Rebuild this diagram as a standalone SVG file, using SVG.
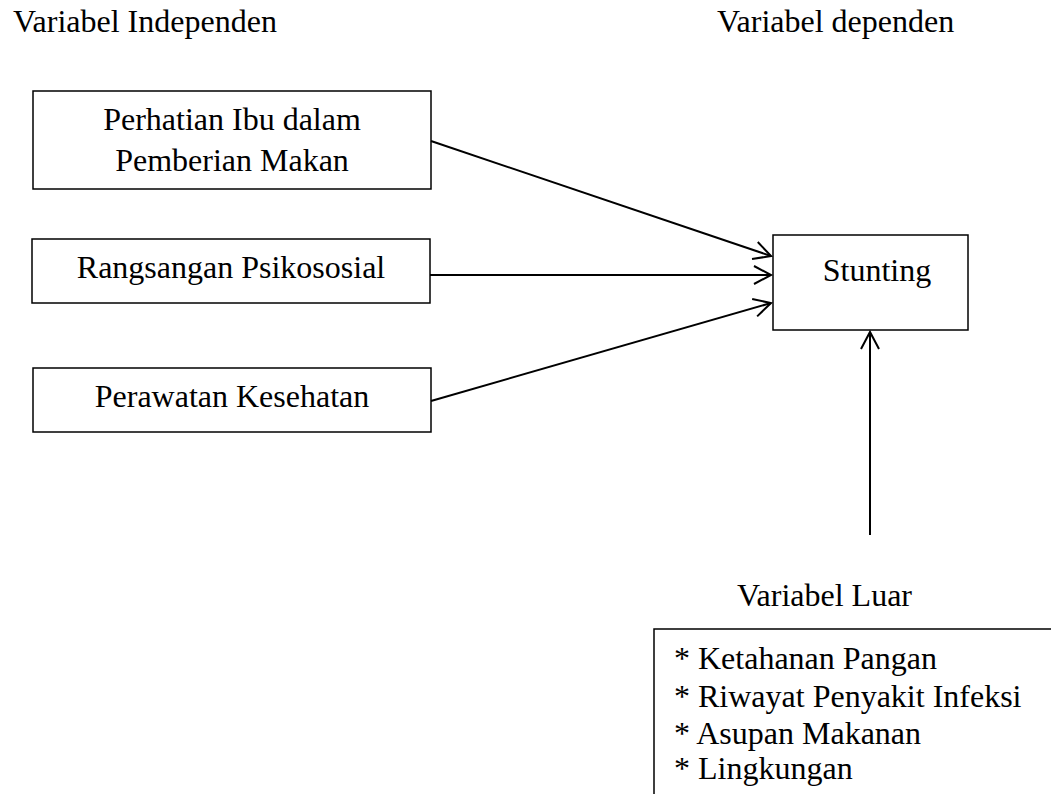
<svg xmlns="http://www.w3.org/2000/svg" width="1051" height="794" viewBox="0 0 1051 794">
<style>
text{font-family:'Liberation Serif','Times New Roman',serif;font-size:32px;fill:#000}
.box{fill:#fff;stroke:#000;stroke-width:1.5}
.conn{stroke:#000;stroke-width:2;fill:none;marker-end:url(#arr)}
.mid{text-anchor:middle}
</style>
<defs>
<marker id="arr" markerUnits="userSpaceOnUse" markerWidth="24" markerHeight="24" refX="18" refY="10" orient="auto" viewBox="0 0 24 20">
<path d="M1,1 L18,10 L1,19" fill="none" stroke="#000" stroke-width="2"/>
</marker>
</defs>
<rect width="1051" height="794" fill="#fff"/>
<g id="title-independen"><text x="13" y="32">Variabel Independen</text></g>
<g id="title-dependen"><text x="717" y="32">Variabel dependen</text></g>
<g id="node-perhatian">
<rect class="box" x="33" y="91" width="398" height="98"/>
<text class="mid" x="232" y="130">Perhatian Ibu dalam</text>
<text class="mid" x="232" y="171">Pemberian Makan</text>
</g>
<g id="node-rangsangan">
<rect class="box" x="32" y="239" width="398" height="64"/>
<text class="mid" x="231" y="278">Rangsangan Psikososial</text>
</g>
<g id="node-perawatan">
<rect class="box" x="33" y="368" width="398" height="64"/>
<text class="mid" x="232" y="407">Perawatan Kesehatan</text>
</g>
<g id="node-stunting">
<rect class="box" x="773" y="235" width="195" height="95"/>
<text class="mid" x="877" y="281">Stunting</text>
</g>
<g id="node-luar">
<text x="737" y="606">Variabel Luar</text>
<path d="M654,794 L654,629 L1051,629" fill="none" stroke="#000" stroke-width="1.5"/>
<text x="674" y="669">* Ketahanan Pangan</text>
<text x="674" y="707">* Riwayat Penyakit Infeksi</text>
<text x="674" y="744">* Asupan Makanan</text>
<text x="674" y="779">* Lingkungan</text>
</g>
<g id="connectors">
<line class="conn" x1="431" y1="141" x2="771" y2="256"/>
<line class="conn" x1="430" y1="275" x2="771" y2="275"/>
<line class="conn" x1="431" y1="401" x2="771" y2="303"/>
<line class="conn" x1="870" y1="535" x2="870" y2="332"/>
</g>
</svg>
